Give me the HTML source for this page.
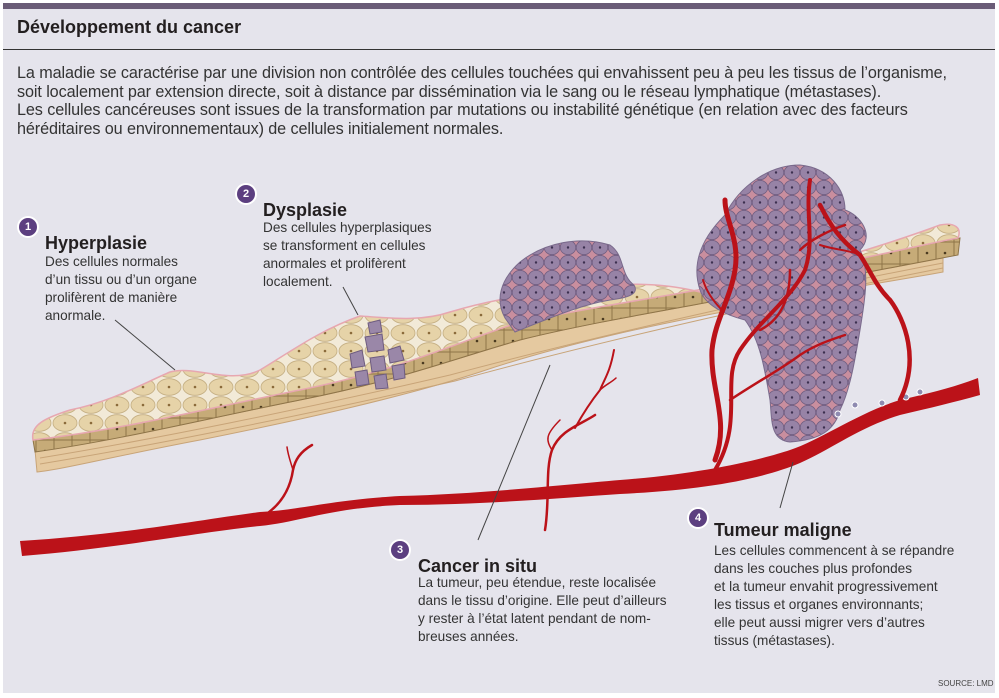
<!DOCTYPE html>
<html><head><meta charset="utf-8"><style>
html,body{margin:0;padding:0;background:#fff;}
#c{position:relative;width:999px;height:698px;overflow:hidden;background:#fff;font-family:"Liberation Sans",sans-serif;}
#card{position:absolute;left:3px;top:3px;width:992px;height:690px;background:#e5e4ec;}
.t{position:absolute;color:#231f20;white-space:nowrap;}
.b{font-weight:bold;}
.badge{position:absolute;width:18px;height:18px;border-radius:50%;background:#5c3f80;color:#fff;font:bold 11px "Liberation Sans",sans-serif;text-align:center;line-height:18px;box-shadow:0 0 0 2px #fff;}
.body{font-size:13.6px;line-height:18px;color:#333;}
</style></head><body><div id="c">
<div id="card"></div>
<div style="position:absolute;left:3px;top:3px;width:992px;height:6px;background:#6a5c77"></div>
<div style="position:absolute;left:3px;top:49px;width:992px;height:1px;background:#333"></div>
<div class="t b" style="left:17px;top:17px;font-size:18px;">Développement du cancer</div>
<div class="t" style="left:17px;top:64px;font-size:16.2px;line-height:18.5px;color:#333;letter-spacing:-0.1px;">La maladie se caractérise par une division non contrôlée des cellules touchées qui envahissent peu à peu les tissus de l’organisme,<br>soit localement par extension directe, soit à distance par dissémination via le sang ou le réseau lymphatique (métastases).<br>Les cellules cancéreuses sont issues de la transformation par mutations ou instabilité génétique (en relation avec des facteurs<br>héréditaires ou environnementaux) de cellules initialement normales.</div>

<svg style="position:absolute;left:0;top:0" width="999" height="698">
<defs>
<pattern id="tan" width="26" height="18" patternUnits="userSpaceOnUse">
<rect width="26" height="18" fill="#f2ead8"/>
<ellipse cx="13" cy="9" rx="12" ry="8.3" fill="#e6d3a8" stroke="#c4ae82" stroke-width="0.8"/>
<circle cx="13" cy="9" r="1.3" fill="#8a6a3a"/>
</pattern>
<pattern id="pur" width="16" height="15" patternUnits="userSpaceOnUse">
<rect width="16" height="15" fill="#c98e9e"/>
<ellipse cx="8" cy="7.5" rx="7.8" ry="7.2" fill="#9783a6" stroke="#6e5c80" stroke-width="0.8"/>
<circle cx="8" cy="7.5" r="1.2" fill="#3c3050"/>
</pattern>
<pattern id="brn" width="18" height="22" patternUnits="userSpaceOnUse">
<rect width="18" height="22" fill="#c6ab78" stroke="#8e7448" stroke-width="1"/>
<circle cx="9" cy="11" r="1.3" fill="#4a3a20"/>
</pattern>
</defs>
<path d="M35,450 C120,440 200,420 300,400 C400,380 450,360 520,340 C600,320 700,305 800,285 C870,272 920,262 943,258 L943,272 C900,280 820,292 760,305 C650,325 560,345 480,372 C400,398 300,420 200,440 C120,455 60,470 37,472 Z" fill="#e5c9a0" stroke="#c8a478" stroke-width="1"/>
<path d="M40,458 C150,440 300,410 450,375 C600,335 800,290 943,263" fill="none" stroke="#c8a478"/>
<path d="M40,464 C150,446 300,416 455,381 C600,341 800,296 943,268" fill="none" stroke="#c8a478"/>
<path d="M33,440 C120,430 200,410 300,390 C400,370 450,345 520,322 C600,305 700,292 800,270 C870,258 920,245 960,238 L958,255 C920,262 870,272 800,285 C700,305 600,320 520,340 C450,360 400,380 300,400 C200,420 120,440 35,452 Z" fill="url(#brn)" stroke="#8e7448"/>
<path d="M33,440 C30,425 45,418 70,410 C110,402 140,385 170,372 C195,365 230,385 260,370 C290,352 320,330 360,316 C390,318 420,322 450,312 C490,300 520,296 560,290 C620,282 660,282 700,292 L800,270 C850,255 900,240 940,225 C955,222 962,228 958,238 C920,245 870,258 800,270 C700,292 600,305 520,322 C450,345 400,370 300,390 C200,410 120,430 33,440 Z" fill="url(#tan)" stroke="#e7a7b0" stroke-width="1.5"/>
<g fill="#9a87a8" stroke="#6e5c80">
<polygon points="365,337 382,334 384,350 368,352"/><polygon points="350,354 362,350 365,366 352,368"/>
<polygon points="370,358 384,356 386,370 372,372"/><polygon points="388,350 400,346 404,360 390,363"/>
<polygon points="355,372 367,370 369,384 357,386"/><polygon points="374,376 386,374 388,388 376,389"/>
<polygon points="392,366 404,364 405,378 394,380"/><polygon points="368,323 380,320 382,332 370,334"/>
</g>
<path d="M505,318 C495,300 500,280 520,262 C545,242 580,236 610,245 C625,255 620,275 634,285 C640,295 625,298 610,300 C580,305 550,318 515,332 Z" fill="url(#pur)" stroke="#7a6a8c"/>
<path d="M700,290 C690,260 705,235 725,215 C740,185 770,165 800,165 C830,168 845,190 845,210 C860,215 875,235 860,250 C870,270 865,300 860,330 C855,360 850,390 840,410 C835,430 820,440 790,442 C770,440 772,420 770,400 C765,370 760,340 745,320 C725,315 705,305 700,290 Z" fill="url(#pur)" stroke="#7a6a8c"/>
<path d="M20,541 C120,535 200,520 260,512 C300,510 330,500 400,496 C480,494 560,485 620,480 C700,474 760,460 790,450 C820,440 860,412 900,400 C930,393 955,387 978,378 L980,395 C955,402 930,408 900,415 C860,427 830,450 800,463 C760,480 700,490 620,494 C560,498 480,505 400,505 C330,508 300,522 260,526 C200,532 120,548 22,556 Z" fill="#bb1219"/>
<g fill="#8e8ab0" stroke="#fff" stroke-width="1"><circle cx="838" cy="414" r="3"/><circle cx="855" cy="405" r="3"/><circle cx="882" cy="403" r="3"/><circle cx="906" cy="397" r="3"/><circle cx="920" cy="392" r="3"/></g>
<g fill="none" stroke="#bb1219" stroke-linecap="round">
<path d="M265,515 C280,505 290,490 293,470 C295,460 300,452 312,445" stroke-width="2.5"/>
<path d="M293,470 C290,460 288,455 287,447" stroke-width="1.5"/>
<path d="M545,530 C550,500 545,470 552,450 C560,430 580,425 595,415" stroke-width="2.5"/>
<path d="M552,450 C546,440 545,435 560,420" stroke-width="1.5"/>
<path d="M575,428 C585,410 592,400 600,390 C605,378 610,372 614,350" stroke-width="2"/>
<path d="M600,390 C605,385 612,382 616,378" stroke-width="1.5"/>
<path d="M715,460 C730,420 710,390 712,350 C715,320 730,300 735,270 C740,240 725,220 725,200" stroke-width="5"/>
<path d="M715,470 C745,420 720,380 740,350 C760,320 790,300 805,270 C815,240 805,215 810,180" stroke-width="4"/>
<path d="M730,400 C760,380 780,370 800,355 C815,345 830,340 845,335" stroke-width="2.5"/>
<path d="M760,330 C780,320 790,300 790,270" stroke-width="2.5"/>
<path d="M800,250 C810,240 830,230 845,225" stroke-width="2.5"/>
<path d="M900,400 C920,360 905,320 890,300 C875,285 870,270 860,255 C840,240 830,225 820,205" stroke-width="4.5"/>
<path d="M860,255 C850,250 835,250 820,245" stroke-width="2"/>
<path d="M722,310 C712,300 706,290 703,280" stroke-width="2"/>
</g>
<g stroke="#444" stroke-width="1"><line x1="115" y1="320" x2="175" y2="370"/><line x1="343" y1="287" x2="358" y2="315"/><line x1="550" y1="365" x2="478" y2="540"/><line x1="793" y1="462" x2="780" y2="508"/></g>
</svg>

<div class="badge" style="left:19px;top:218px;">1</div>
<div class="t b" style="left:45px;top:233px;font-size:18px;">Hyperplasie</div>
<div class="t body" style="left:45px;top:253px;">Des cellules normales<br>d’un tissu ou d’un organe<br>prolifèrent de manière<br>anormale.</div>
<div class="badge" style="left:237px;top:185px;">2</div>
<div class="t b" style="left:263px;top:200px;font-size:18px;">Dysplasie</div>
<div class="t body" style="left:263px;top:219px;">Des cellules hyperplasiques<br>se transforment en cellules<br>anormales et prolifèrent<br>localement.</div>
<div class="badge" style="left:391px;top:541px;">3</div>
<div class="t b" style="left:418px;top:556px;font-size:18px;">Cancer in situ</div>
<div class="t body" style="left:418px;top:574px;">La tumeur, peu étendue, reste localisée<br>dans le tissu d’origine. Elle peut d’ailleurs<br>y rester à l’état latent pendant de nom-<br>breuses années.</div>
<div class="badge" style="left:689px;top:509px;">4</div>
<div class="t b" style="left:714px;top:520px;font-size:18px;">Tumeur maligne</div>
<div class="t body" style="left:714px;top:542px;">Les cellules commencent à se répandre<br>dans les couches plus profondes<br>et la tumeur envahit progressivement<br>les tissus et organes environnants;<br>elle peut aussi migrer vers d’autres<br>tissus (métastases).</div>
<div class="t" style="left:938px;top:679px;font-size:8px;color:#444;">SOURCE: LMD</div>
</div></body></html>
